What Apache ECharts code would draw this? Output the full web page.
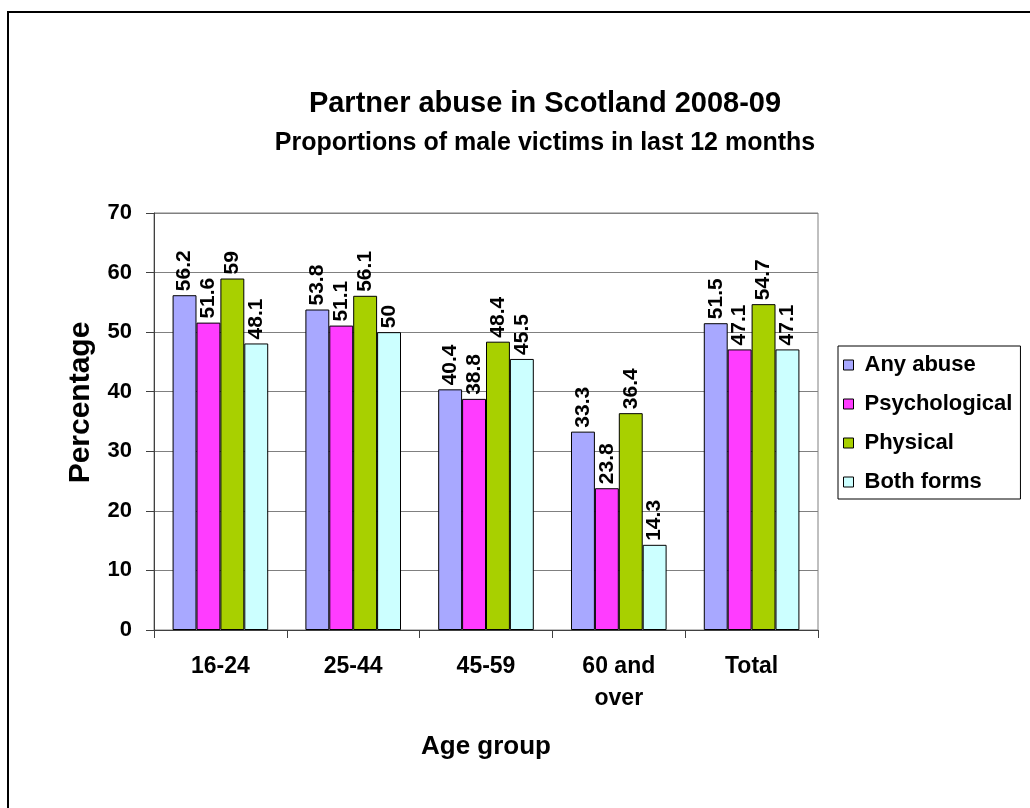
<!DOCTYPE html>
<html>
<head>
<meta charset="utf-8">
<script src="https://cdn.jsdelivr.net/npm/echarts@6/dist/echarts.min.js"></script>
<style>
html,body{margin:0;padding:0;background:#fff;}
#chart{width:1030px;height:808px;}
</style>
</head>
<body>
<div id="chart"></div>
<script>
const categories = ['16-24', '25-44', '45-59', '60 and\nover', 'Total'];
const anyAbuse = [56.2, 53.8, 40.4, 33.3, 51.5];
const psychological = [51.6, 51.1, 38.8, 23.8, 47.1];
const physical = [59, 56.1, 48.4, 36.4, 54.7];
const bothForms = [48.1, 50, 45.5, 14.3, 47.1];
const seriesNames = ['Any abuse', 'Psychological', 'Physical', 'Both forms'];
const seriesColors = ['#a8a8ff', '#ff3cff', '#a8d000', '#ccffff'];
const titleText = 'Partner abuse in Scotland 2008-09';
const subtitleText = 'Proportions of male victims in last 12 months';

const FONT = '"Liberation Sans", Arial, sans-serif';
const chart = echarts.init(document.getElementById('chart'), null, {renderer: 'canvas'});

const seriesData = [anyAbuse, psychological, physical, bothForms];
const series = seriesData.map((d, i) => ({
  name: seriesNames[i],
  type: 'bar',
  data: d,
  barGap: '0%',
  barCategoryGap: '28%',
  itemStyle: {color: seriesColors[i], borderColor: '#000', borderWidth: 1},
  label: {
    show: true,
    position: 'top',
    rotate: 90,
    align: 'left',
    verticalAlign: 'middle',
    distance: 4,
    color: '#000',
    fontFamily: FONT,
    fontWeight: 'bold',
    fontSize: 21
  }
}));

chart.setOption({
  animation: false,
  backgroundColor: '#fff',
  textStyle: {fontFamily: FONT},
  graphic: [
    {type: 'rect', shape: {x: 8, y: 12, width: 1100, height: 900}, style: {fill: 'none', stroke: '#000', lineWidth: 2}, z: -1},
    {type: 'text', x: 545, y: 104, style: {text: titleText, fontFamily: FONT, fontWeight: 'bold', fontSize: 29, fill: '#000', textAlign: 'center', textVerticalAlign: 'middle'}},
    {type: 'text', x: 545, y: 143, style: {text: subtitleText, fontFamily: FONT, fontWeight: 'bold', fontSize: 25, fill: '#000', textAlign: 'center', textVerticalAlign: 'middle'}}
  ],
  legend: {
    orient: 'vertical',
    left: 838,
    top: 346,
    data: seriesNames,
    icon: 'rect',
    itemWidth: 10,
    itemHeight: 10,
    itemGap: 17,
    padding: [8, 8, 6, 5],
    borderColor: '#000',
    borderWidth: 1,
    itemStyle: {borderColor: '#000', borderWidth: 1},
    textStyle: {fontFamily: FONT, fontWeight: 'bold', fontSize: 22, color: '#000', lineHeight: 22, padding: [0, 0, 0, 6]}
  },
  grid: {
    left: 154,
    right: 212,
    top: 213,
    bottom: 178,
    show: true,
    borderColor: '#808080',
    borderWidth: 1
  },
  xAxis: {
    type: 'category',
    data: categories,
    name: 'Age group',
    nameLocation: 'middle',
    nameGap: 104,
    nameTextStyle: {fontFamily: FONT, fontWeight: 'bold', fontSize: 26, color: '#000'},
    axisLine: {lineStyle: {color: '#404040', width: 1}},
    axisTick: {show: true, length: 8, lineStyle: {color: '#404040'}},
    axisLabel: {fontFamily: FONT, fontWeight: 'bold', fontSize: 23, color: '#000', margin: 21, lineHeight: 32}
  },
  yAxis: {
    type: 'value',
    min: 0,
    max: 70,
    interval: 10,
    name: 'Percentage',
    nameLocation: 'middle',
    nameGap: 58,
    nameTextStyle: {fontFamily: FONT, fontWeight: 'bold', fontSize: 30, color: '#000', padding: [0, 0, 0, 38]},
    axisLine: {show: true, lineStyle: {color: '#404040', width: 1}},
    axisTick: {show: true, length: 8, lineStyle: {color: '#404040'}},
    splitLine: {lineStyle: {color: '#808080', width: 1}},
    axisLabel: {fontFamily: FONT, fontWeight: 'bold', fontSize: 22, color: '#000', margin: 22}
  },
  series: series
});
</script>
</body>
</html>
